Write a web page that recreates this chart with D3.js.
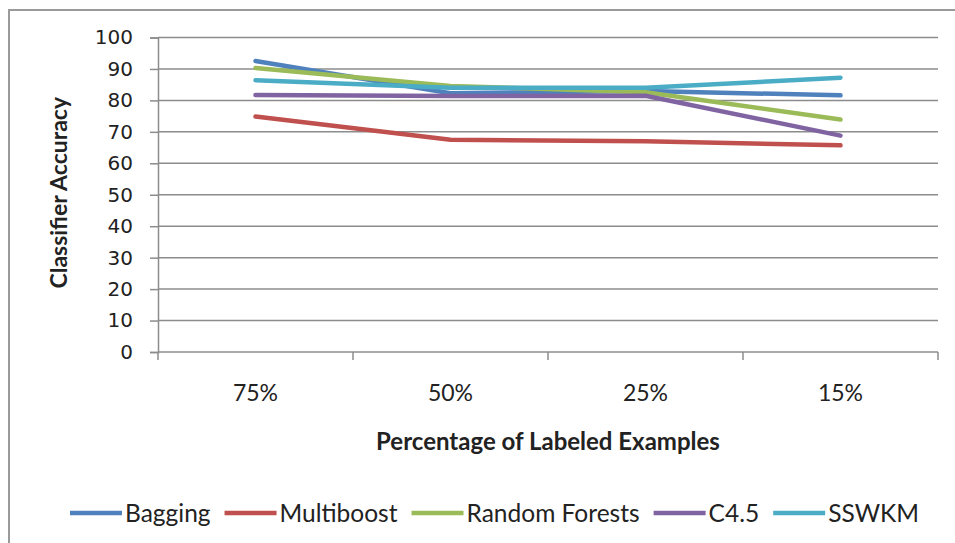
<!DOCTYPE html>
<html>
<head>
<meta charset="utf-8">
<script src="https://cdn.jsdelivr.net/npm/d3@7"></script>
<style>
  html, body { margin: 0; padding: 0; background: #fff; }
  svg { display: block; }
</style>
</head>
<body>
<svg id="chart" width="955" height="543"></svg>
<script>
// Labeled-data share on the x axis, accuracy (%) per classifier
const categories = ["75%", "50%", "25%", "15%"];
const seriesNames = ["Bagging", "Multiboost", "Random Forests", "C4.5", "SSWKM"];
const bagging      = [92.5, 82.3, 83.0, 81.6];
const multiboost   = [74.9, 67.5, 67.0, 65.7];
const randomForest = [90.3, 84.6, 82.6, 73.9];
const c45          = [81.7, 81.4, 81.5, 68.8];
const sswkm        = [86.4, 84.0, 84.0, 87.2];
const yTicks = [0, 10, 20, 30, 40, 50, 60, 70, 80, 90, 100];
const colors = ["#4F81BD", "#C0504D", "#9BBB59", "#8064A2", "#4BACC6"];

const seriesValues = [bagging, multiboost, randomForest, c45, sswkm];
const series = seriesNames.map((name, i) => ({ name, values: seriesValues[i], color: colors[i] }));

const svg = d3.select("#chart");
const margin = { left: 158, top: 37.5, right: 17, bottom: 191 };
const W = 955, H = 543;
const innerW = W - margin.left - margin.right;
const innerH = H - margin.top - margin.bottom;

const labelFont = "Lato, 'Open Sans', sans-serif";

// outer chart frame
svg.append("rect")
  .attr("x", 9).attr("y", 10)
  .attr("width", 1000).attr("height", 700)
  .attr("fill", "none").attr("stroke", "#9a9a9a").attr("stroke-width", 2);

const g = svg.append("g").attr("transform", `translate(${margin.left},${margin.top})`);

const x = d3.scaleBand().domain(categories).range([0, innerW]).padding(0);
const y = d3.scaleLinear().domain([0, 100]).range([innerH, 0]);

// horizontal gridlines
g.append("g").selectAll("line")
  .data(yTicks.filter(d => d > 0))
  .join("line")
  .attr("x1", 0).attr("x2", innerW)
  .attr("y1", d => y(d)).attr("y2", d => y(d))
  .attr("stroke", "#8c8c8c").attr("stroke-width", 1.5);

// y axis
const yAxis = g.append("g")
  .call(d3.axisLeft(y).tickValues(yTicks).tickSize(8).tickPadding(17));
yAxis.select(".domain").attr("stroke", "#8c8c8c").attr("stroke-width", 1.5);
yAxis.selectAll(".tick line").attr("stroke", "#8c8c8c").attr("stroke-width", 1.5);
yAxis.selectAll(".tick text")
  .attr("font-family", "'DejaVu Sans', sans-serif")
  .attr("font-size", 20).attr("fill", "#222");

// x axis: ticks sit on category boundaries
const xAxisG = g.append("g").attr("transform", `translate(0,${innerH})`);
xAxisG.append("line")
  .attr("x1", 0).attr("x2", innerW).attr("y1", 0).attr("y2", 0)
  .attr("stroke", "#8c8c8c").attr("stroke-width", 1.5);
const boundaries = categories.map(c => x(c)).concat([innerW]);
xAxisG.selectAll("line.tk")
  .data(boundaries)
  .join("line").attr("class", "tk")
  .attr("x1", d => d).attr("x2", d => d)
  .attr("y1", 0).attr("y2", 8)
  .attr("stroke", "#8c8c8c").attr("stroke-width", 1.5);
xAxisG.selectAll("text.cat")
  .data(categories)
  .join("text").attr("class", "cat")
  .attr("x", d => x(d) + x.bandwidth() / 2)
  .attr("y", 49)
  .attr("text-anchor", "middle")
  .attr("font-family", labelFont).attr("font-size", 23).attr("fill", "#222")
  .text(d => d);

// axis titles
svg.append("text")
  .attr("transform", `translate(67,${margin.top + innerH / 2 - 2}) rotate(-90)`)
  .attr("text-anchor", "middle")
  .attr("font-family", labelFont).attr("font-weight", "bold")
  .attr("font-size", 23).attr("fill", "#222")
  .text("Classifier Accuracy");

svg.append("text")
  .attr("x", 548).attr("y", 450)
  .attr("text-anchor", "middle")
  .attr("font-family", labelFont).attr("font-weight", "bold")
  .attr("font-size", 24).attr("fill", "#222")
  .text("Percentage of Labeled Examples");

// series lines
const line = d3.line()
  .x((d, i) => x(categories[i]) + x.bandwidth() / 2)
  .y(d => y(d));

g.append("g").selectAll("path")
  .data(series)
  .join("path")
  .attr("d", d => line(d.values))
  .attr("fill", "none")
  .attr("stroke", d => d.color)
  .attr("stroke-width", 4.5)
  .attr("stroke-linejoin", "round")
  .attr("stroke-linecap", "round");

// legend
const legend = svg.append("g").attr("transform", "translate(70,513)");
let cursor = 0;
series.forEach(s => {
  const item = legend.append("g").attr("transform", `translate(${cursor},0)`);
  item.append("line")
    .attr("x1", 0).attr("x2", 52).attr("y1", 0).attr("y2", 0)
    .attr("stroke", s.color).attr("stroke-width", 4.5);
  const t = item.append("text")
    .attr("x", 55).attr("y", 8.5)
    .attr("font-family", labelFont).attr("font-size", 24.5).attr("fill", "#222")
    .text(s.name);
  cursor += 55 + t.node().getComputedTextLength() + 14;
});
</script>
</body>
</html>
